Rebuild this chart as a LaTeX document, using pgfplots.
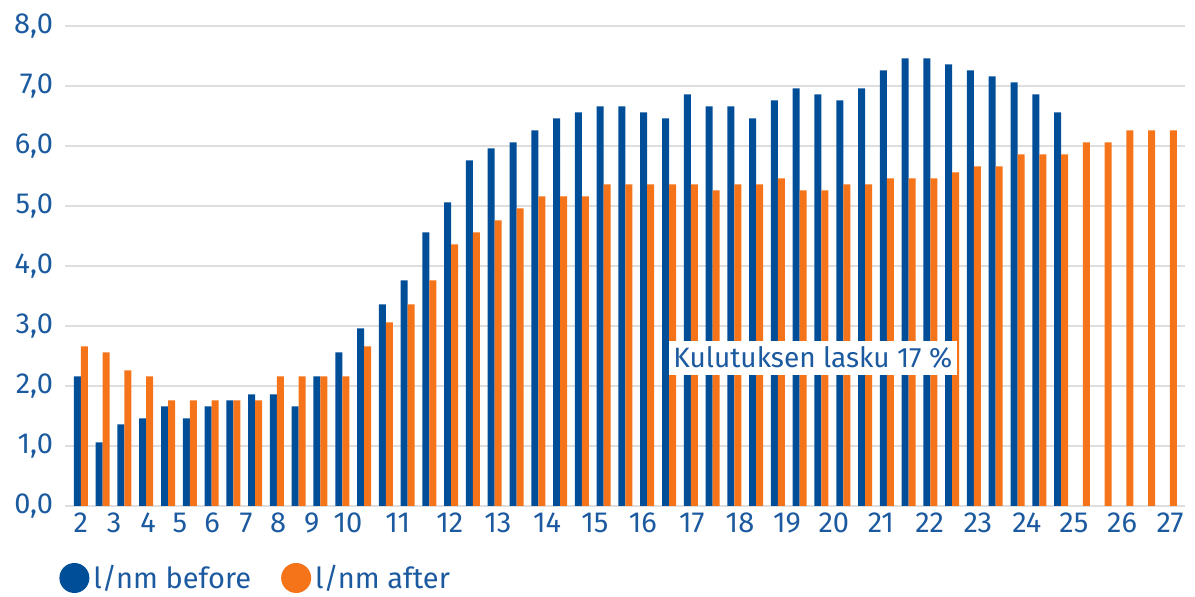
\documentclass[border=0pt]{standalone}
\usepackage{fontspec}
\setmainfont{Fira Sans}
\usepackage{pgfplots}
\pgfplotsset{compat=1.18}
\definecolor{barblue}{RGB}{0,78,152}
\definecolor{barorange}{RGB}{245,115,25}
\definecolor{textblue}{RGB}{28,90,160}
\definecolor{gridgray}{RGB}{222,222,222}
\newcommand{\lblfont}{\fontsize{14.5pt}{16pt}\selectfont}
\begin{document}
\begin{tikzpicture}
\path[use as bounding box] (-32.5pt,-45.5pt) rectangle (565pt,253pt);
\begin{axis}[
  at={(0pt,0pt)}, anchor=south west,
  scale only axis, width=560pt, height=240pt,
  xmin=-0.73, xmax=50.69, ymin=0, ymax=8,
  ybar=0pt, bar width=3.5pt,
  axis line style={draw=none},
  major tick length=0pt,
  ymajorgrids, grid style={gridgray, line width=1pt},
  ytick={0,1,...,8},
  yticklabel style={xshift=-2.5pt, /pgf/number format/.cd, use comma, fixed, fixed zerofill, precision=1, assume math mode=true},
  xtick={0,1.52,3.08,4.55,6.02,7.58,9.05,10.60,12.26,14.55,16.94,19.14,21.40,23.60,25.80,28.05,30.26,32.42,34.57,36.73,38.97,41.18,43.43,45.59,47.80,50},
  xticklabels={2,3,4,5,6,7,8,9,10,11,12,13,14,15,16,17,18,19,20,21,22,23,24,25,26,27},
  tick label style={font=\lblfont, text=textblue},
  legend style={at={(axis description cs:0,0)}, anchor=west, xshift=-3pt, yshift=-36pt,
    draw=none, fill=none, inner sep=0pt, font=\lblfont, text=textblue,
    legend columns=2, /tikz/every even column/.style={column sep=13pt}},
  legend cell align=left,
]
\addplot[fill=barblue, draw=none,
  legend image code/.code={\fill[barblue] (7pt,0pt) circle (7.5pt);}] coordinates {
(0,2.16) (1,1.06) (2,1.36) (3,1.46) (4,1.66) (5,1.46) (6,1.66) (7,1.76) (8,1.86) (9,1.86)
(10,1.66) (11,2.16) (12,2.56) (13,2.96) (14,3.36) (15,3.76) (16,4.56) (17,5.06) (18,5.76) (19,5.96)
(20,6.06) (21,6.26) (22,6.46) (23,6.56) (24,6.66) (25,6.66) (26,6.56) (27,6.46) (28,6.86) (29,6.66)
(30,6.66) (31,6.46) (32,6.76) (33,6.96) (34,6.86) (35,6.76) (36,6.96) (37,7.26) (38,7.46) (39,7.46)
(40,7.36) (41,7.26) (42,7.16) (43,7.06) (44,6.86) (45,6.56)
};
\addlegendentry{l/nm before}
\addplot[fill=barorange, draw=none,
  legend image code/.code={\fill[barorange] (7pt,0pt) circle (7.5pt);}] coordinates {
(0,2.66) (1,2.56) (2,2.26) (3,2.16) (4,1.76) (5,1.76) (6,1.76) (7,1.76) (8,1.76) (9,2.16)
(10,2.16) (11,2.16) (12,2.16) (13,2.66) (14,3.06) (15,3.36) (16,3.76) (17,4.36) (18,4.56) (19,4.76)
(20,4.96) (21,5.16) (22,5.16) (23,5.16) (24,5.36) (25,5.36) (26,5.36) (27,5.36) (28,5.36) (29,5.26)
(30,5.36) (31,5.36) (32,5.46) (33,5.26) (34,5.26) (35,5.36) (36,5.36) (37,5.46) (38,5.46) (39,5.46)
(40,5.56) (41,5.66) (42,5.66) (43,5.86) (44,5.86) (45,5.86) (46,6.06) (47,6.06) (48,6.26) (49,6.26)
(50,6.26)
};
\addlegendentry{l/nm after}
\node[fill=white, text=textblue, font=\fontsize{14pt}{16pt}\selectfont, inner sep=0pt, minimum width=144pt, minimum height=17pt]
  at (axis cs:33.6,2.47) {Kulutuksen lasku 17 \%};
\end{axis}
\end{tikzpicture}
\end{document}
